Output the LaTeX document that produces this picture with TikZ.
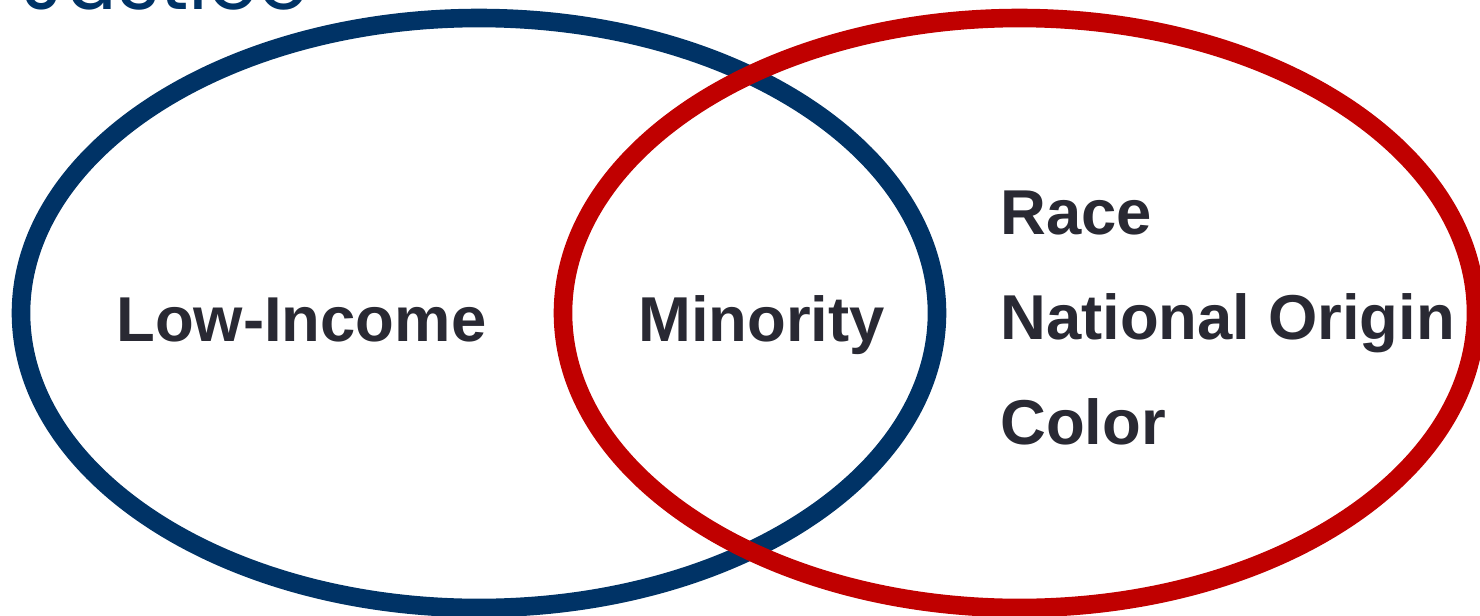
\documentclass[tikz,border=0pt]{standalone}
\usepackage{fontspec}
\setmainfont{Liberation Sans}
\newfontfamily\titlefont{Poppins}
\definecolor{vblue}{RGB}{0,51,102}
\definecolor{vred}{RGB}{192,0,0}
\definecolor{vtext}{RGB}{41,41,51}
\begin{document}
\begin{tikzpicture}[x=0.5pt,y=-0.5pt,
  ring/.style={line width=9.3pt},
  lbl/.style={font=\fontsize{31.7}{31.7}\selectfont\bfseries, text=vtext, inner sep=0pt, anchor=base west}]
\useasboundingbox (0,0) rectangle (1480,616);
\clip (0,0) rectangle (1480,616);
\node[font=\titlefont\fontsize{40.5}{40.5}\selectfont, text=vblue, anchor=base west, inner sep=0pt] (title) at (22,9) {Justice};
\draw[ring, vblue] (479,313) ellipse [x radius=458, y radius=295];
\draw[ring, vred] (1019.5,313) ellipse [x radius=456.5, y radius=295];
\node[lbl] (low) at (116,341) {Low-Income};
\node[lbl] (min) at (638,341) {Minority};
\node[lbl] (race) at (1000,234) {Race};
\node[lbl] (nat) at (1000,339) {National Origin};
\node[lbl] (col) at (1000,444) {Color};
\end{tikzpicture}
\end{document}
